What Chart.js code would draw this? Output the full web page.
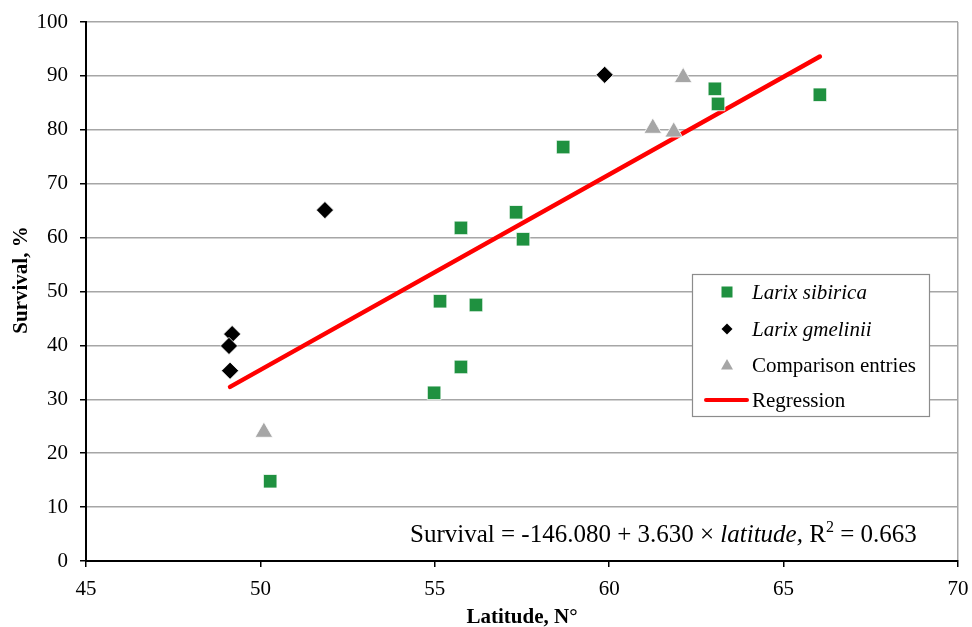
<!DOCTYPE html>
<html><head><meta charset="utf-8">
<script src="https://cdn.jsdelivr.net/npm/chart.js@4"></script>
<style>html,body{margin:0;padding:0;background:#fff}</style>
</head><body>
<canvas id="c" width="972" height="627" style="width:972px;height:627px;display:block"></canvas>
<script>
// Data
const sibiricaX = [50.28, 54.98, 55.15, 55.75, 55.75, 56.18, 57.33, 57.53, 58.68, 63.03, 63.12, 66.04];
const sibiricaY = [14.8, 31.2, 48.2, 61.8, 36.0, 47.5, 64.7, 59.7, 76.8, 87.6, 84.8, 86.5];
const gmeliniiX = [59.87, 51.85, 49.19, 49.10, 49.13];
const gmeliniiY = [90.2, 65.1, 42.1, 39.9, 35.3];
const comparisonX = [62.12, 61.25, 61.85, 50.10];
const comparisonY = [89.7, 80.3, 79.6, 23.9];
const regressionX = [49.13, 66.04];
const regressionY = [32.3, 93.6];
const xTicks = [45, 50, 55, 60, 65, 70];
const yTicks = [0, 10, 20, 30, 40, 50, 60, 70, 80, 90, 100];
const legendLabels = ['Larix sibirica', 'Larix gmelinii', 'Comparison entries', 'Regression'];
const equationParts = ['Survival = -146.080 + 3.630 × ', 'latitude,', ' R', '2', ' = 0.663'];

const FONT = "'Liberation Serif', 'Times New Roman', serif";
const GREEN = '#1f9140';
const GRAY = '#a6a6a6';
const RED = '#ff0000';

const pts = (xs, ys) => xs.map((x, i) => ({x, y: ys[i]}));

const overlay = {
  id: 'overlay',
  afterDraw(chart) {
    const ctx = chart.ctx;
    ctx.save();
    // y-axis title
    ctx.fillStyle = '#000';
    ctx.font = 'bold 21px ' + FONT;
    ctx.textAlign = 'center';
    ctx.textBaseline = 'middle';
    ctx.translate(22, 280);
    ctx.rotate(-Math.PI / 2);
    ctx.fillText('Survival, %', 0, 0);
    ctx.restore();

    // Legend box
    ctx.save();
    const lx = 692, ly = 274, lw = 237, lh = 142;
    ctx.fillStyle = '#fff';
    ctx.fillRect(lx, ly, lw, lh);
    ctx.strokeStyle = '#8c8c8c';
    ctx.lineWidth = 1.2;
    ctx.strokeRect(lx + 0.5, ly + 0.5, lw, lh);
    const rows = [292, 329, 365, 400];
    const mx = 727;
    // square
    ctx.fillStyle = GREEN;
    ctx.fillRect(mx - 5.5, rows[0] - 5.5, 11, 11);
    // diamond
    ctx.fillStyle = '#000';
    ctx.beginPath();
    ctx.moveTo(mx, rows[1] - 5.5); ctx.lineTo(mx + 5.5, rows[1]);
    ctx.lineTo(mx, rows[1] + 5.5); ctx.lineTo(mx - 5.5, rows[1]);
    ctx.closePath(); ctx.fill();
    // triangle
    ctx.fillStyle = GRAY;
    ctx.beginPath();
    ctx.moveTo(mx, rows[2] - 6); ctx.lineTo(mx + 6, rows[2] + 4.5);
    ctx.lineTo(mx - 6, rows[2] + 4.5); ctx.closePath(); ctx.fill();
    // line
    ctx.strokeStyle = RED; ctx.lineWidth = 4; ctx.lineCap = 'round';
    ctx.beginPath(); ctx.moveTo(706, rows[3]); ctx.lineTo(747, rows[3]); ctx.stroke();
    ctx.fillStyle = '#000';
    ctx.textAlign = 'left';
    ctx.textBaseline = 'middle';
    legendLabels.forEach((t, i) => {
      ctx.font = (i < 2 ? 'italic ' : '') + '21px ' + FONT;
      ctx.fillText(t, 752, rows[i] + 1);
    });
    ctx.restore();

    // Equation
    ctx.save();
    ctx.fillStyle = '#000';
    ctx.textAlign = 'left';
    ctx.textBaseline = 'alphabetic';
    let x = 410; const base = 541.5;
    const f = ['25px ', 'italic 25px ', '25px ', '16px ', '25px '];
    const dy = [0, 0, 0, -10, 0];
    equationParts.forEach((t, i) => {
      ctx.font = f[i] + FONT;
      ctx.fillText(t, x, base + dy[i]);
      x += ctx.measureText(t).width;
    });
    ctx.restore();
  }
};

Chart.defaults.font.family = FONT;
Chart.defaults.color = '#000';

new Chart(document.getElementById('c'), {
  type: 'scatter',
  data: {
    datasets: [
      { label: legendLabels[0], data: pts(sibiricaX, sibiricaY), pointStyle: 'rect', radius: 9.6,
        backgroundColor: GREEN, borderColor: 'rgba(255,255,255,0.8)', borderWidth: 1 },
      { label: legendLabels[1], data: pts(gmeliniiX, gmeliniiY), pointStyle: 'rectRot', radius: 8.6,
        backgroundColor: '#000', borderColor: 'rgba(255,255,255,0.8)', borderWidth: 1 },
      { label: legendLabels[2], data: pts(comparisonX, comparisonY), pointStyle: 'triangle', radius: 10.2,
        backgroundColor: GRAY, borderColor: 'rgba(255,255,255,0.8)', borderWidth: 1 },
      { label: legendLabels[3], type: 'line', data: pts(regressionX, regressionY), showLine: true,
        borderColor: RED, borderWidth: 4.5, pointRadius: 0, borderCapStyle: 'round', fill: false }
    ]
  },
  options: {
    responsive: false,
    animation: false,
    events: [],
    layout: { padding: { left: 0, right: 14, top: 22, bottom: 0 } },
    plugins: { legend: { display: false }, tooltip: { enabled: false } },
    scales: {
      x: {
        type: 'linear', min: 45, max: 70,
        afterBuildTicks: s => { s.ticks = xTicks.map(v => ({value: v})); },
        afterFit: s => { s.height = 66; s.paddingLeft = 0; s.paddingRight = 0; },
        ticks: { font: { size: 21 }, padding: 10, color: '#000', maxRotation: 0 },
        grid: {
          color: ctx => (ctx.tick && ctx.tick.value === 70) ? '#a6a6a6' : 'rgba(0,0,0,0)',
          lineWidth: 1.5, tickColor: '#000', tickLength: 6, drawTicks: true
        },
        border: { color: '#000', width: 2 },
        title: { display: true, text: 'Latitude, N°', font: { size: 21, weight: 'bold', lineHeight: 1 },
          padding: { top: 0, bottom: -1.5 }, color: '#000' }
      },
      y: {
        type: 'linear', min: 0, max: 100,
        afterBuildTicks: s => { s.ticks = yTicks.map(v => ({value: v})); },
        afterFit: s => { s.width = 86; s.paddingTop = 0; s.paddingBottom = 0; },
        ticks: { font: { size: 21 }, padding: 12, color: '#000' },
        grid: { color: '#a6a6a6', lineWidth: 1.5, tickColor: '#000', tickLength: 6 },
        border: { color: '#000', width: 2 }
      }
    }
  },
  plugins: [overlay]
});
</script>
</body></html>
